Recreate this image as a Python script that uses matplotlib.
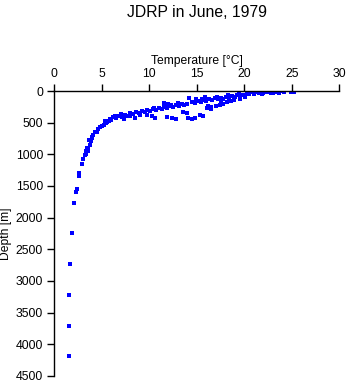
import matplotlib
matplotlib.use("Agg")
import matplotlib.pyplot as plt

plt.rcParams["font.family"] = ["Liberation Sans", "DejaVu Sans"]

# temperature [deg C] and depth [m]
temp = [
    # surface cluster
    25.2, 24.9, 23.8, 23.5, 23.2, 22.9, 22.6, 22.3, 22.0, 21.8, 21.5, 21.3,
    21.0, 20.8, 20.5, 20.3, 20.0, 22.8, 21.9, 23.0, 24.2, 23.7,
    # upper band
    19.8, 19.5, 19.2, 19.0, 18.7, 18.4, 18.1, 17.8, 17.5, 17.2, 16.9, 16.6,
    19.6, 18.9, 20.1, 18.3, 17.1, 19.4,
    # loop
    18.6, 18.2, 17.8, 17.4, 17.0, 16.5, 16.2, 17.6,
    16.3, 16.0, 15.7, 15.4, 15.1, 14.8, 14.5, 14.2, 14.0, 13.7, 15.9, 15.5, 14.9,
    13.4, 13.1, 12.8, 12.5, 12.2, 11.9, 11.6, 11.3, 11.0, 10.7, 10.4, 10.1,
    9.8, 12.0, 11.5, 10.5, 13.0, 12.3,
    9.5, 9.2, 8.9, 8.6, 8.3, 8.0, 7.7, 7.4, 7.1, 6.8, 6.5, 6.2, 9.0, 8.0,
    7.0, 6.4,
    6.0, 5.8, 5.6, 5.4, 5.2, 5.0, 4.8, 5.9, 5.3,
    # lower branch
    9.8, 10.3, 10.6, 11.9, 12.4, 12.8, 13.6, 14.0, 14.1, 14.5, 14.8, 15.3,
    15.7, 16.1, 16.5, 7.3, 8.5,
    # deep profile
    4.6, 4.3, 4.1, 3.95, 3.85, 3.75, 3.6, 3.5, 3.4, 3.3, 3.3, 3.2, 3.05, 2.9,
    2.65, 2.6, 2.4, 2.3, 2.1, 1.85, 1.7, 1.6, 1.6, 1.55, 4.5, 4.0, 3.7,
]
depth = [
    10, 15, 5, 10, 20, 5, 15, 10, 25, 5, 30, 15,
    40, 20, 50, 35, 60, 30, 40, 35, 20, 25,
    70, 90, 60, 100, 80, 110, 95, 120, 105, 130, 115, 140,
    120, 140, 90, 70, 100, 45,
    160, 180, 200, 220, 240, 250, 230, 165,
    130, 150, 140, 170, 150, 190, 175, 110, 200, 215, 100, 120, 130,
    210, 235, 220, 250, 240, 270, 255, 290, 275, 300, 285, 320,
    305, 200, 190, 270, 190, 215,
    330, 320, 350, 335, 370, 355, 390, 375, 410, 395, 430, 415, 380, 400,
    370, 400,
    450, 470, 490, 510, 530, 550, 570, 440, 470,
    380, 400, 430, 415, 430, 440, 335, 340, 430, 440, 425, 380,
    390, 270, 280, 440, 420,
    600, 655, 700, 740, 795, 845, 900, 950, 895, 945, 1000, 1005, 1080, 1150,
    1300, 1350, 1540, 1600, 1775, 2250, 2735, 3215, 3710, 4190, 640, 720, 780,
]

fig = plt.figure(figsize=(3.48, 3.84), dpi=100)
ax = fig.add_axes([0.156, 0.021, 0.819, 0.742])

ax.plot(temp, depth, "s", color="#0000ff", markersize=2.4, markeredgewidth=0,
        antialiased=False)

ax.set_xlim(0, 30)
ax.set_ylim(4500, 0)
ax.set_xticks(range(0, 31, 5))
ax.set_yticks(range(0, 4501, 500))
ax.xaxis.set_ticks_position("top")
ax.xaxis.set_label_position("top")
ax.spines["right"].set_visible(False)
ax.spines["bottom"].set_visible(False)
for s in ("top", "left"):
    ax.spines[s].set_linewidth(1)
ax.tick_params(direction="out", length=5, width=1, labelsize=8.8, pad=3)
ax.set_xlabel("Temperature [°C]", fontsize=8.7, labelpad=3)
ax.set_ylabel("Depth [m]", fontsize=8.7, labelpad=3)

fig.text(0.565, 0.968, "JDRP in June, 1979", ha="center", va="center", fontsize=11.3)

plt.savefig("out.png", dpi=100)
